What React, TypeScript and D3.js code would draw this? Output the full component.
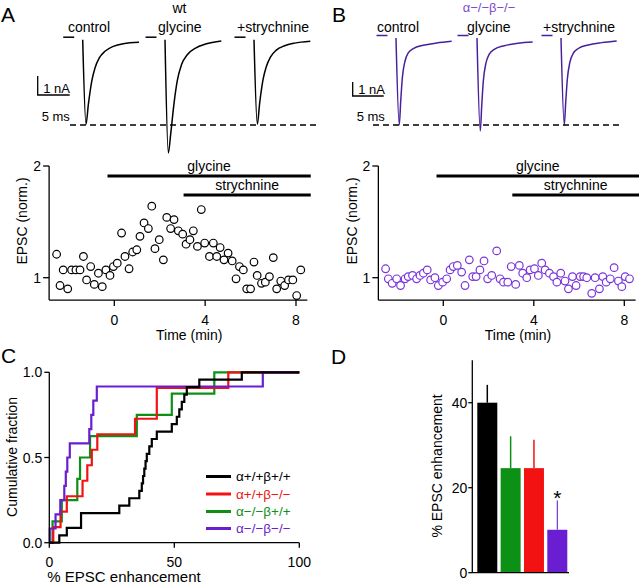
import React from 'react';
import * as d3 from 'd3';

const FONT = '"Liberation Sans", Arial, Helvetica, sans-serif';
const PURPLE = '#6a1ed2';
const TRACE_PURPLE = '#47219c';
const CIRCLE_PURPLE = '#7b35d8';
const HEADER_PURPLE = '#7d4cc9';
const RED = '#f21212';
const GREEN = '#0c9016';

// ---------------- Panel A / B example traces (ms, nA) ----------------
const traceTimesA = [0, 0.52, 0.88, 1.41, 1.92, 2.59, 3.48, 4.78, 6.34, 8.8];
const controlA = [0, -4.45, -3.42, -2.19, -1.49, -0.96, -0.61, -0.35, -0.21, -0.14];
const glycineA = [0, -5.96, -5.0, -3.35, -2.16, -1.31, -0.79, -0.44, -0.23, -0.07];
const strychnineA = [0, -4.45, -3.35, -2.1, -1.42, -0.9, -0.55, -0.32, -0.18, -0.08];

const traceTimesB = [0, 0.53, 0.76, 1.02, 1.45, 1.98, 2.79, 4.4, 6.56, 8.98];
const controlB = [0, -6.2, -4.52, -2.86, -1.66, -1.07, -0.76, -0.52, -0.36, -0.24];
const glycineB = [0, -6.64, -4.85, -3.07, -1.78, -1.15, -0.81, -0.55, -0.38, -0.29];
const strychnineB = [0, -6.2, -4.6, -2.95, -1.7, -1.1, -0.75, -0.5, -0.33, -0.21];

const traceLabels = ['control', 'glycine', '+strychnine'];

// ---------------- Time courses (min, normalised EPSC) ----------------
const timeA = [-2.54, -2.39, -2.25, -2.05, -1.88, -1.69, -1.51, -1.36, -1.22, -1.04,
  -0.88, -0.7, -0.53, -0.37, -0.19, -0.04, 0.13, 0.32, 0.47, 0.65,
  0.81, 0.99, 1.13, 1.31, 1.5, 1.65, 1.79, 1.98, 2.16, 2.31,
  2.48, 2.63, 2.82, 3.01, 3.16, 3.33, 3.48, 3.66, 3.83, 3.98,
  4.19, 4.36, 4.51, 4.66, 4.83, 5.01, 5.19, 5.36, 5.51, 5.68,
  5.83, 6.0, 6.15, 6.29, 6.48, 6.65, 6.83, 7.0, 7.15, 7.33,
  7.5, 7.67, 7.86, 8.03, 8.21];
const epscA = [1.21, 0.93, 1.07, 0.9, 1.07, 1.07, 1.07, 1.19, 0.98, 1.1,
  0.94, 1.04, 0.92, 1.07, 1.02, 1.1, 1.13, 1.4, 1.19, 1.08,
  1.23, 1.25, 1.37, 1.49, 1.44, 1.64, 1.26, 1.34, 1.16, 1.54,
  1.44, 1.52, 1.42, 1.39, 1.3, 1.34, 1.42, 1.28, 1.61, 1.31,
  1.19, 1.31, 1.19, 1.27, 1.16, 1.22, 1.15, 0.99, 1.1, 1.07,
  0.9, 0.9, 1.14, 1.02, 0.95, 0.96, 1.01, 1.18, 0.9, 0.97,
  0.93, 0.98, 0.98, 0.84, 1.07];

const timeB = [-2.55, -2.43, -2.26, -2.06, -1.89, -1.69, -1.55, -1.36, -1.18, -1.03,
  -0.88, -0.71, -0.56, -0.37, -0.22, -0.03, 0.15, 0.3, 0.44, 0.62,
  0.81, 0.96, 1.15, 1.3, 1.45, 1.62, 1.8, 1.96, 2.14, 2.36,
  2.51, 2.66, 2.85, 3.0, 3.2, 3.36, 3.51, 3.69, 3.84, 4.03,
  4.2, 4.35, 4.5, 4.69, 4.87, 5.02, 5.19, 5.38, 5.53, 5.71,
  5.87, 6.05, 6.2, 6.34, 6.56, 6.71, 6.9, 7.05, 7.2, 7.38,
  7.55, 7.74, 7.89, 8.04, 8.23];
const epscB = [1.08, 0.99, 0.95, 0.99, 0.93, 0.99, 1.01, 1.02, 0.99, 1.02,
  1.04, 1.07, 0.98, 1.0, 0.93, 0.96, 0.99, 1.07, 1.1, 1.11,
  1.05, 0.93, 1.16, 1.01, 1.01, 1.07, 1.15, 0.99, 1.02, 1.24,
  0.99, 0.96, 0.96, 1.1, 0.94, 1.11, 1.04, 1.0, 1.07, 1.08,
  1.02, 1.13, 1.07, 1.04, 1.01, 0.96, 1.04, 0.97, 0.9, 1.01,
  0.93, 1.01, 1.01, 1.0, 0.86, 1.0, 0.9, 1.01, 0.96, 0.99,
  1.09, 0.97, 0.92, 1.01, 0.99];

const drugNames = ['glycine', 'strychnine'];
const drugStart = [-0.3, 3.05];
const drugEnd = [8.65, 8.65];
const timeTicks = [0, 4, 8];
const epscTicks = [1, 2];

// ---------------- Panel C: cumulative distributions (% enhancement) ----------------
const genotypes = ['α+/+β+/+', 'α+/+β−/−', 'α−/−β+/+', 'α−/−β−/−'];
const enhWT = [4.0, 7.0, 12.7, 12.7, 28.0, 32.0, 36.0, 37.0, 37.5, 38.0, 38.5, 39.0,
  40.0, 41.0, 43.0, 49.0, 51.0, 52.0, 53.0, 54.0, 55.0, 60.0, 77.0];
const enhBetaKO = [1.6, 4.5, 7.0, 13.3, 15.2, 17.0, 19.2, 34.3, 43.0, 43.0, 71.6];
const enhAlphaKO = [1.3, 5.0, 11.2, 12.3, 16.3, 35.0, 49.0, 66.0];
const enhDoubleKO = [0.2, 2.5, 4.4, 6.0, 6.6, 7.2, 8.2, 16.0, 16.8, 17.6, 19.0, 85.4];
const cumTicksX = [0, 50, 100];
const cumTicksY = [0, 0.5, 1];

// ---------------- Panel D: bar chart ----------------
const barGroups = ['α+/+β+/+', 'α−/−β+/+', 'α+/+β−/−', 'α−/−β−/−'];
const barMeans = [40, 24.6, 24.6, 10.1];
const barSems = [4.2, 7.5, 6.7, 6.9];
const barTicks = [0, 20, 40];

// styles kept separate from data
const genotypeColors = ['#000000', RED, GREEN, PURPLE];
const barColors = ['#000000', GREEN, RED, PURPLE];

function Trace({ times, currents, x0, base, xs, ys, color }: any) {
  const line = d3
    .line<number>()
    .x((_, i) => x0 + xs(times[i]))
    .y((d) => base + ys(d))
    .curve(d3.curveMonotoneX);
  return (
    <g>
      <line x1={x0 - 19.5} x2={x0 - 8.5} y1={base - 2.5} y2={base - 2.5} stroke={color} strokeWidth={1.5} />
      <path d={line(currents) || ''} fill="none" stroke={color} strokeWidth={1.5} strokeLinejoin="round" />
    </g>
  );
}

function TracePanel({ times, sets, x0s, labelXs, base, xs, ys, color, bar, dash }: any) {
  const barH = ys(-1) - ys(0);
  const barW = xs(5) - xs(0);
  return (
    <g>
      {traceLabels.map((t, i) => (
        <text key={t} x={labelXs[i]} y={31.5} fontSize={14} fill="#000">{t}</text>
      ))}
      {sets.map((c: number[], i: number) => (
        <Trace key={i} times={times} currents={c} x0={x0s[i]} base={base} xs={xs} ys={ys} color={color} />
      ))}
      <line x1={dash[0]} x2={dash[1]} y1={125} y2={125} stroke="#000" strokeWidth={1.3} strokeDasharray="6,4" />
      <path d={`M${bar.x},${bar.y - barH}V${bar.y}H${bar.x + barW}`} fill="none" stroke="#000" strokeWidth={1.3} />
      <text x={bar.x + 5.5} y={bar.y - 2} fontSize={13}>1 nA</text>
      <text x={bar.x + 4} y={121} fontSize={13}>5 ms</text>
    </g>
  );
}

function TimeCourse({ times, values, xRange, stroke, labelX }: any) {
  const x = d3.scaleLinear().domain([0, 8]).range(xRange);
  const y = d3.scaleLinear().domain([1, 2]).range([277.7, 166]);
  const xMin = -2.87;
  const xMax = 8.5;
  const yMin = 0.8;
  const barY = [176, 195];
  return (
    <g>
      <line x1={x(xMin)} x2={x(xMin)} y1={y(2)} y2={y(yMin)} stroke="#000" strokeWidth={1.3} />
      <line x1={x(xMin)} x2={x(xMax)} y1={y(yMin)} y2={y(yMin)} stroke="#000" strokeWidth={1.3} />
      {epscTicks.map((t) => (
        <g key={t}>
          <line x1={x(xMin) - 6} x2={x(xMin)} y1={y(t)} y2={y(t)} stroke="#000" strokeWidth={1.3} />
          <text x={x(xMin) - 8} y={y(t)} dy="0.36em" fontSize={14} textAnchor="end">{t}</text>
        </g>
      ))}
      {timeTicks.map((t) => (
        <g key={t}>
          <line x1={x(t)} x2={x(t)} y1={y(yMin)} y2={y(yMin) + 6} stroke="#000" strokeWidth={1.3} />
          <text x={x(t)} y={325} fontSize={14} textAnchor="middle">{t}</text>
        </g>
      ))}
      <text x={x(3.3)} y={340} fontSize={14} textAnchor="middle">Time (min)</text>
      <text transform={`translate(${labelX},221) rotate(-90)`} dy="0.36em" fontSize={14} textAnchor="middle">EPSC (norm.)</text>
      {drugNames.map((n, i) => (
        <g key={n}>
          <line x1={x(drugStart[i])} x2={x(drugEnd[i])} y1={barY[i]} y2={barY[i]} stroke="#000" strokeWidth={3} />
          <text x={x((drugStart[i] + drugEnd[i]) / 2)} y={barY[i] - 5} fontSize={14} textAnchor="middle">{n}</text>
        </g>
      ))}
      {times.map((t: number, i: number) => (
        <circle key={i} cx={x(t)} cy={y(values[i])} r={3.8} fill="#fff" stroke={stroke} strokeWidth={1.2} />
      ))}
    </g>
  );
}

function CumPanel() {
  const x = d3.scaleLinear().domain([0, 100]).range([49.3, 299.3]);
  const y = d3.scaleLinear().domain([0, 1]).range([542.7, 372.3]);
  const groups = [enhWT, enhBetaKO, enhAlphaKO, enhDoubleKO];
  const line = d3
    .line<[number, number]>()
    .x((d) => x(d[0]))
    .y((d) => y(d[1]))
    .curve(d3.curveStepAfter);
  const ecdf = (vals: number[]) => {
    const s = [...vals].sort((a, b) => a - b);
    const pts: [number, number][] = [[0, 0]];
    s.forEach((v, i) => pts.push([v, (i + 1) / s.length]));
    pts.push([100, 1]);
    return pts;
  };
  const order = [2, 1, 3, 0];
  const legendY = [476.5, 494, 511.5, 528.5];
  return (
    <g>
      {order.map((gi) => (
        <path key={gi} d={line(ecdf(groups[gi])) || ''} fill="none" stroke={genotypeColors[gi]} strokeWidth={2.2} />
      ))}
      <line x1={x(0)} x2={x(0)} y1={y(1)} y2={y(0)} stroke="#000" strokeWidth={1.3} />
      <line x1={x(0)} x2={x(100)} y1={y(0)} y2={y(0)} stroke="#000" strokeWidth={1.3} />
      {cumTicksY.map((t) => (
        <g key={t}>
          <line x1={x(0) - 5} x2={x(0)} y1={y(t)} y2={y(t)} stroke="#000" strokeWidth={1.3} />
          <text x={x(0) - 7} y={y(t)} dy="0.36em" fontSize={14} textAnchor="end">{t.toFixed(1)}</text>
        </g>
      ))}
      {cumTicksX.map((t) => (
        <g key={t}>
          <line x1={x(t)} x2={x(t)} y1={y(0)} y2={y(0) + 5} stroke="#000" strokeWidth={1.3} />
          <text x={x(t)} y={566.5} fontSize={14} textAnchor="middle">{t}</text>
        </g>
      ))}
      <text x={x(-0.8)} y={582} fontSize={15} textAnchor="start">% EPSC enhancement</text>
      <text transform={`translate(12,457) rotate(-90)`} dy="0.36em" fontSize={14} textAnchor="middle">Cumulative fraction</text>
      {genotypes.map((g, i) => (
        <g key={g}>
          <line x1={206} x2={231} y1={legendY[i]} y2={legendY[i]} stroke={genotypeColors[i]} strokeWidth={3} />
          <text x={236} y={legendY[i]} dy="0.36em" fontSize={13.5} fill={genotypeColors[i]}>{g}</text>
        </g>
      ))}
    </g>
  );
}

function BarPanel() {
  const x = d3.scaleBand<string>().domain(barGroups).range([477.3, 567.3]).paddingInner(0.143).paddingOuter(0);
  const y = d3.scaleLinear().domain([0, 50]).range([572.7, 360.2]);
  const axisX = 472.3;
  return (
    <g>
      {barGroups.map((g, i) => {
        const bx = x(g) as number;
        const cx = bx + x.bandwidth() / 2;
        return (
          <g key={g}>
            <rect x={bx} y={y(barMeans[i])} width={x.bandwidth()} height={y(0) - y(barMeans[i])} fill={barColors[i]} />
            <line x1={cx} x2={cx} y1={y(barMeans[i])} y2={y(barMeans[i] + barSems[i])} stroke={barColors[i]} strokeWidth={i === 3 ? 1.1 : 1.5} />
          </g>
        );
      })}
      <text x={(x(barGroups[3]) as number) + x.bandwidth() / 2} y={y(barMeans[3] + barSems[3]) + 5} fontSize={21} textAnchor="middle">*</text>
      <line x1={axisX} x2={axisX} y1={y(50)} y2={y(0)} stroke="#000" strokeWidth={1.3} />
      <line x1={axisX} x2={569} y1={y(0)} y2={y(0)} stroke="#000" strokeWidth={1.3} />
      {barTicks.map((t) => (
        <g key={t}>
          <line x1={axisX - 4} x2={axisX} y1={y(t)} y2={y(t)} stroke="#000" strokeWidth={1.3} />
          <text x={axisX - 5} y={y(t)} dy="0.36em" fontSize={14} textAnchor="end">{t}</text>
        </g>
      ))}
      <text transform={`translate(437,466) rotate(-90)`} dy="0.36em" fontSize={14} textAnchor="middle">% EPSC enhancement</text>
    </g>
  );
}

export default function App() {
  const xsA = d3.scaleLinear().domain([0, 5]).range([0, 32]);
  const ysA = d3.scaleLinear().domain([0, -1]).range([0, 19]);
  const xsB = d3.scaleLinear().domain([0, 5]).range([0, 31]);
  const ysB = d3.scaleLinear().domain([0, -1]).range([0, 14]);
  return (
    <div style={{ position: 'absolute', left: 0, top: 0, width: 640, height: 584, background: '#fff' }}>
      <svg width={640} height={584} style={{ display: 'block', fontFamily: FONT }}>
        <rect width={640} height={584} fill="#fff" />
        <text x={1} y={22} fontSize={21}>A</text>
        <text x={332} y={22} fontSize={21}>B</text>
        <text x={1} y={363} fontSize={21}>C</text>
        <text x={331} y={364} fontSize={21}>D</text>
        <text x={179.5} y={13} fontSize={14} textAnchor="middle">wt</text>
        <text x={489} y={11.5} fontSize={13} textAnchor="middle" fill={HEADER_PURPLE}>α−/−β−/−</text>

        <TracePanel
          times={traceTimesA}
          sets={[controlA, glycineA, strychnineA]}
          x0s={[82.7, 165, 254]}
          labelXs={[68, 158, 237]}
          base={39.7}
          xs={xsA}
          ys={ysA}
          color="#000"
          bar={{ x: 37.7, y: 95 }}
          dash={[70, 317]}
        />
        <TracePanel
          times={traceTimesB}
          sets={[controlB, glycineB, strychnineB]}
          x0s={[396, 477, 561]}
          labelXs={[377, 467, 543]}
          base={38}
          xs={xsB}
          ys={ysB}
          color={TRACE_PURPLE}
          bar={{ x: 352.7, y: 96 }}
          dash={[373, 622]}
        />

        <TimeCourse times={timeA} values={epscA} xRange={[114.3, 296]} stroke="#000" labelX={22} />
        <TimeCourse times={timeB} values={epscB} xRange={[443.3, 624.3]} stroke={CIRCLE_PURPLE} labelX={352} />

        <CumPanel />
        <BarPanel />
      </svg>
    </div>
  );
}
